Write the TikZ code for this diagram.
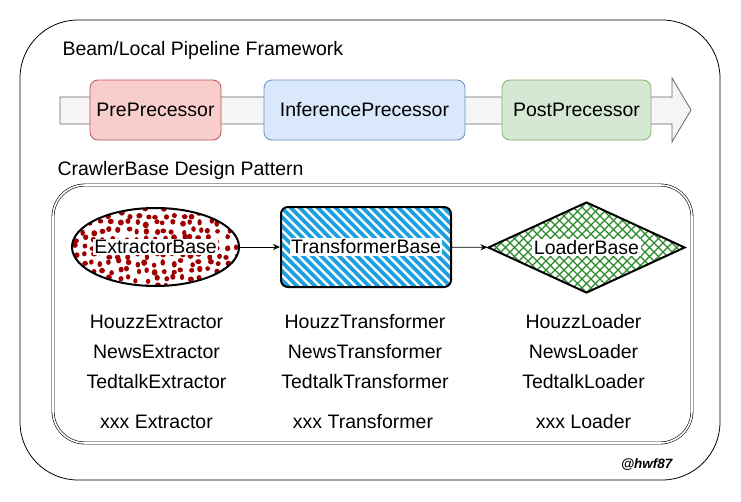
\documentclass[tikz,border=0pt]{standalone}
\usepackage{fontspec}
\setmainfont{Liberation Sans}
\usepackage{tikz}
\usetikzlibrary{arrows.meta}
\usetikzlibrary{shapes,shapes.geometric}
\usetikzlibrary{positioning}
\usetikzlibrary{calc}

\definecolor{prefill}{HTML}{F8CECC}
\definecolor{preline}{HTML}{B85450}
\definecolor{inffill}{HTML}{DAE8FC}
\definecolor{infline}{HTML}{6C8EBF}
\definecolor{postfill}{HTML}{D5E8D4}
\definecolor{postline}{HTML}{82B366}
\definecolor{pipefill}{HTML}{F5F5F5}
\definecolor{pipeline}{HTML}{666666}
\definecolor{dotred}{HTML}{A00000}
\definecolor{stripeblue}{HTML}{1BA1E2}
\definecolor{hatchgreen}{HTML}{2A8A2A}

\newcommand{\labelfont}{\fontsize{19.5}{23}\selectfont}

\begin{document}
\begin{tikzpicture}[x=1pt, y=-1pt,
  every node/.style={font=\labelfont},
  stage/.style={rounded corners=8pt, minimum height=60pt, line width=0.8pt},
  basetext/.style={fill=white, inner sep=1.5pt},
  item/.style={inner sep=0pt},
  link/.style={line width=0.9pt, -{Stealth[length=7pt, width=6pt]}}]
  \useasboundingbox (0,0) rectangle (741,501);

  \draw[line width=0.8pt, rounded corners=58pt] (20,20) rectangle (720,480);
  \node[anchor=west] (title) at (59,50) {Beam/Local Pipeline Framework};

  \draw[draw=pipeline, fill=pipefill, line width=0.8pt]
    (60,97) -- (672,97) -- (672,78) -- (691,110) -- (672,142) -- (672,124) -- (60,124) -- cycle;
  \node[stage, draw=preline, fill=prefill, minimum width=131pt] (pre) at (155.5,110) {PrePrecessor};
  \node[stage, draw=infline, fill=inffill, minimum width=201pt] (inference) at (364.5,110) {InferencePrecessor};
  \node[stage, draw=postline, fill=postfill, minimum width=149pt] (post) at (576.5,110) {PostPrecessor};

  \node[anchor=west] (pattern) at (54,170) {CrawlerBase Design Pattern};
  \draw[line width=0.6pt, double=white, double distance=1.6pt, rounded corners=32pt] (53,185) rectangle (692,443);

  \pgfmathsetseed{11}
  \node[ellipse, draw, line width=2pt, minimum width=167pt, minimum height=78pt,
    path picture={
      \foreach \i in {-9,...,9}{
        \foreach \j in {-5,...,5}{
          \pgfmathsetmacro\dx{9*\i+rand*2.5}
          \pgfmathsetmacro\dy{8*\j+rand*2.5}
          \fill[dotred] ([shift={(\dx pt,\dy pt)}]path picture bounding box.center)
            ellipse ({2.1pt+rnd*1pt} and {2.3pt+rnd*1pt});
        }
      }
    }] (extractor) at (155.5,247) {};
  \node[basetext] (extractortext) at (extractor.center) {ExtractorBase};

  \node[draw, line width=2pt, rounded corners=7pt, minimum width=170pt, minimum height=80pt,
    path picture={
      \foreach \s in {-144,-135,...,144}{
        \draw[stripeblue, line width=3.6pt]
          ([shift={(\s pt-60pt,60pt)}]path picture bounding box.center) -- ++(120pt,-120pt);
      }
    }] (transformer) at (366,247) {};
  \node[basetext] (transformertext) at (transformer.center) {TransformerBase};

  \node[diamond, draw, line width=2pt, minimum width=197pt, minimum height=91pt, inner sep=0pt,
    path picture={
      \foreach \s in {-162,-153,...,162}{
        \draw[hatchgreen, line width=1.2pt]
          ([shift={(\s pt-60pt,60pt)}]path picture bounding box.center) -- ++(120pt,-120pt);
        \draw[hatchgreen, line width=1.2pt]
          ([shift={(\s pt-60pt,-60pt)}]path picture bounding box.center) -- ++(120pt,120pt);
      }
    }] (loader) at (586.5,247.5) {};
  \node[basetext] (loadertext) at (loader.center) {LoaderBase};

  \draw[link] (extractor) -- (transformer);
  \draw[link] (transformer) -- (loader);

  \foreach \src [count=\r] in {Houzz,News,Tedtalk}{
    \node[item] (ext\src) at (156.5,292+30*\r) {\src Extractor};
    \node[item] (trans\src) at (365,292+30*\r) {\src Transformer};
    \node[item] (load\src) at (583.5,292+30*\r) {\src Loader};
  }
  \node[item] (extxxx) at (156.5,422) {xxx Extractor};
  \node[item] (transxxx) at (363,422) {xxx Transformer};
  \node[item] (loadxxx) at (583.5,422) {xxx Loader};

  \node[anchor=east, font=\fontsize{13.5}{16}\selectfont\bfseries\itshape] (author) at (676,465) {@hwf87};
\end{tikzpicture}
\end{document}
